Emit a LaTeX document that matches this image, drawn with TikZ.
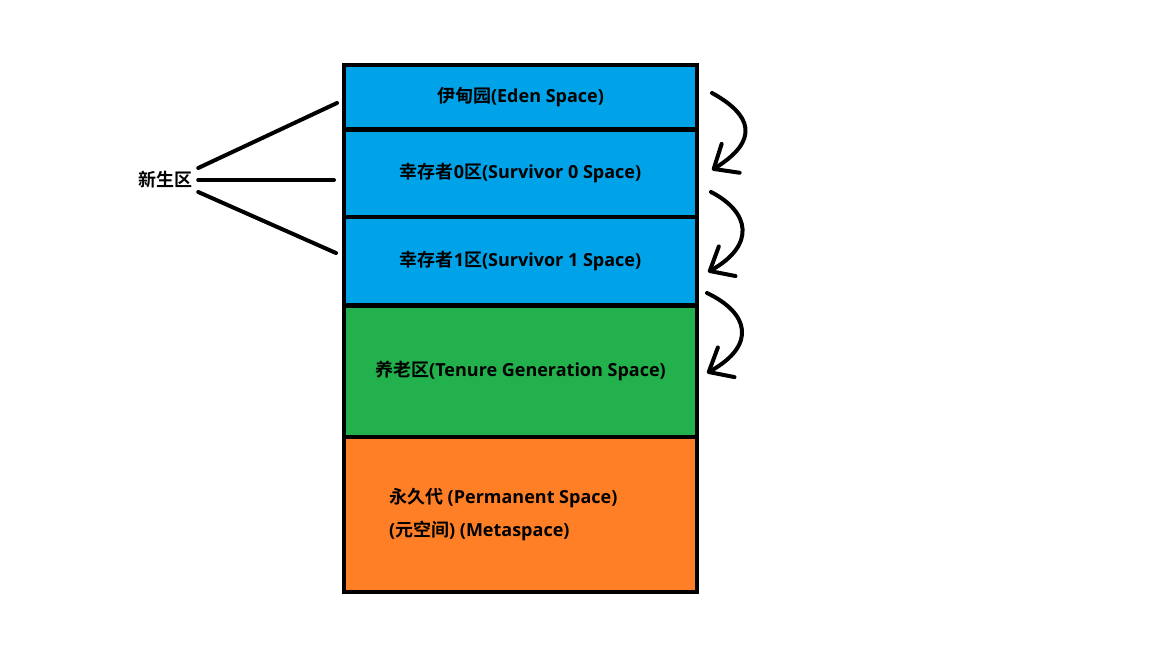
\documentclass[tikz,border=0pt]{standalone}
\usepackage{fontspec}
\setmainfont{Open Sans}
\newfontfamily\cjk{Noto Sans CJK SC}[BoldFont = {Noto Sans CJK SC Bold}]
\usetikzlibrary{arrows.meta,positioning}
\definecolor{niceblue}{RGB}{0, 162, 232}
\definecolor{nicegreen}{RGB}{34, 177, 76}
\definecolor{niceorange}{RGB}{255, 127, 39}

\tikzset{
	region/.style = {draw, line width = 4.5pt, outer sep = 0pt, inner sep = 0pt, minimum width = 353pt, font = \bfseries\fontsize{18}{22}\selectfont},
	lbl/.style = {font = \bfseries\fontsize{18}{22}\selectfont},
	fan/.style = {line width = 4pt, line cap = round},
	hand/.style = {line width = 4pt, line cap = round, -{Straight Barb[length = 20pt, width = 34pt, round]}}
}

\begin{document}
\begin{tikzpicture}[x = 1pt, y = -1pt]
			\useasboundingbox[fill = white] (0,0) rectangle (1152,648);
			\node (eden) at (520.5,97.25) [region, fill = niceblue, minimum height = 64.5pt] {{\cjk 伊甸园}(Eden Space)};
			\node (surv0) [region, fill = niceblue, minimum height = 87.5pt, below = 0pt of eden] {{\cjk 幸存者}0{\cjk 区}(Survivor 0 Space)};
			\node (surv1) [region, fill = niceblue, minimum height = 88.5pt, below = 0pt of surv0] {{\cjk 幸存者}1{\cjk 区}(Survivor 1 Space)};
			\node (tenure) [region, fill = nicegreen, minimum height = 131.5pt, below = 0pt of surv1] {{\cjk 养老区}(Tenure Generation Space)};
			\node (perm) [region, fill = niceorange, minimum height = 155pt, below = 0pt of tenure] {};
			\node (permtxt) [lbl, align = left, font = \bfseries\fontsize{18}{33}\selectfont, right = 41.5pt of perm.west] {{\cjk 永久代} (Permanent Space)\\({\cjk 元空间}) (Metaspace)};
			\node (xs) at (165,180) [lbl, minimum height = 22pt, inner xsep = 6pt] {\cjk 新生区};
			% fan to the young spaces
			\coordinate (xsA) at (337,103);
			\coordinate (xsB) at (334,180);
			\coordinate (xsC) at (336,253);
			\draw[fan] (xs.north east) -- (xsA);
			\draw[fan] (xs.east) -- (xsB);
			\draw[fan] (xs.south east) -- (xsC);
			% hand drawn arrows
			\coordinate (a1s) at (712,93);
			\coordinate (a1e) at (712,170);
			\coordinate (a2s) at (711,192);
			\coordinate (a2e) at (708,272);
			\coordinate (a3s) at (707,293);
			\coordinate (a3e) at (707,373);
			\draw[hand] (a1s) .. controls (752,115) and (760,140) .. (a1e);
			\draw[hand] (a2s) .. controls (750,212) and (756,245) .. (a2e);
			\draw[hand] (a3s) .. controls (749,313) and (757,345) .. (a3e);
			\end{tikzpicture}
\end{document}
